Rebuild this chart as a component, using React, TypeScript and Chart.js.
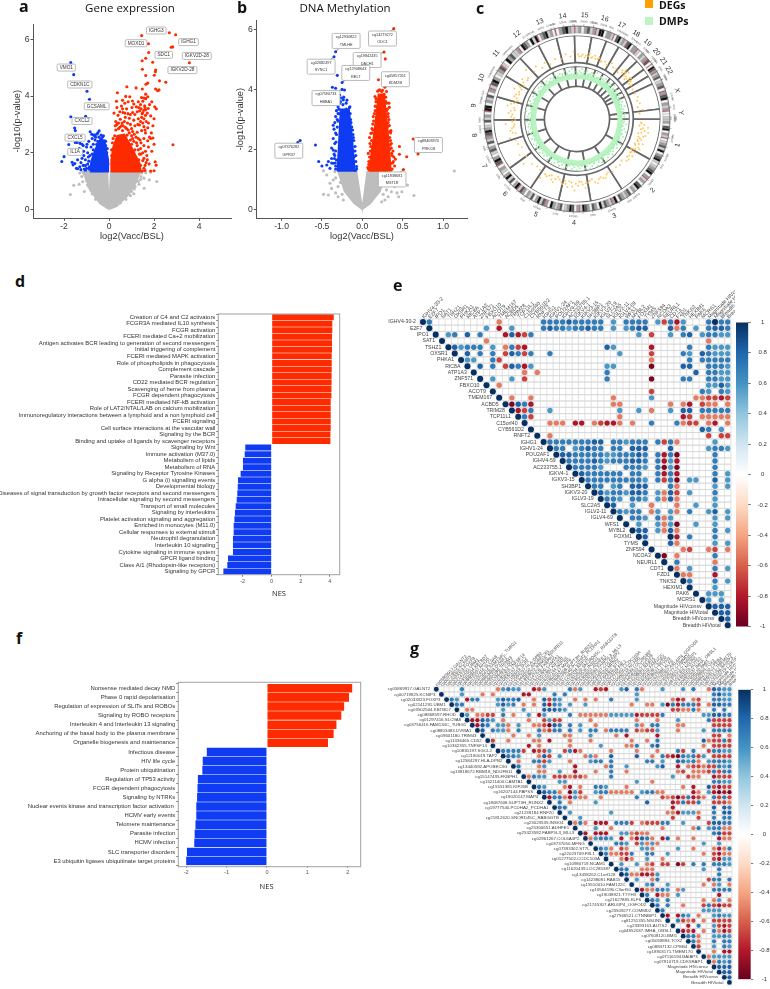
import React, { useEffect, useRef } from "react";
import { Chart, registerables } from "chart.js";
Chart.register(...registerables);

type P = [number, number];
const RED = "#ff2b00", BLUE = "#0f3cf2", GREY = "#bdbdbd";
const SANS = "'Liberation Sans', Arial, sans-serif";
const OPEN = "'Open Sans', sans-serif";

/* ---------- a: gene expression volcano ---------- */
const aXTicks = [-2, 0, 2, 4];
const aYTicks = [0, 2, 4, 6];
const aRed: P[] = [[1.45,6.14],[2.68,6.24],[2.96,6.17],[1.75,5.85],[2.76,5.73],[2.83,5.74],[1.76,5.54],[1.63,5.34],[1.47,5.25],[1.94,5.2],[3.57,5.18],[1.48,4.95],[2.07,4.92],[2.06,4.86],[1.63,4.73],[2.01,4.74],[1.72,4.46],[1.64,4.42],[2.24,4.54],[2.52,4.49],[.79,4.33],[1.2,4.29],[1.48,4.25],[2.07,4.25],[2.22,4.22],[2.16,4.19],[.37,4.12],[1.63,4.07],[.74,3.99],[.92,3.98],[1.44,3.95],[1.55,3.93],[1.63,3.91],[1.72,3.98],[.33,3.82],[.6,3.85],[.7,3.75],[.85,3.8],[1.04,3.83],[1.3,3.8],[1.5,3.82],[1.9,3.8],[.35,3.6],[.55,3.65],[.78,3.55],[1.02,3.6],[1.21,3.62],[1.4,3.7],[1.58,3.66],[1.74,3.56],[1.8,3.7],[2.03,3.62],[2.1,3.55],[.22,3.4],[.4,3.32],[.62,3.42],[.84,3.38],[1.05,3.42],[1.25,3.45],[1.36,3.48],[1.47,3.38],[1.55,3.5],[1.62,3.32],[1.7,3.4],[1.85,3.3],[.3,3.1],[.5,3.18],[.68,3.1],[.9,3.22],[1.1,3.15],[1.3,3.2],[1.45,3.25],[1.55,3.2],[1.65,3.1],[1.75,3.05],[2,3.2],[.28,2.95],[.55,2.95],[.72,2.9],[.95,3],[1.15,2.95],[1.35,2.98],[1.55,2.92],[1.72,2.88],[1.95,2.95],[.85,2.8],[1.05,2.75],[1.25,2.72],[1.45,2.78],[1.62,2.7],[1.88,2.7],[1.05,2.5],[1.2,2.55],[1.38,2.45],[1.55,2.5],[1.72,2.42],[1.85,2.5],[1.95,2.52],[2.84,2.28],[1,2.3],[1.25,2.25],[1.4,2.15],[1.55,2.25],[1.75,2.2],[2,2.3],[1.35,1.95],[1.5,2],[1.68,1.9],[1.9,2.05],[1.32,1.75],[1.5,1.72],[1.65,1.65],[1.78,1.6],[2.05,1.68],[2.09,1.56],[1.4,1.55],[1.55,1.45],[1.6,1.37],[1.85,1.35],[2,1.36],[.15,2.35],[.25,2.6],[.42,2.85],[.6,2.78],[.8,2.62],[.95,2.45],[1.15,2.1],[1.28,1.6],[.12,1.9],[.18,2.5],[.3,2.8],[.35,3],[.48,2.9],[.58,3.05],[.78,2.85],[.9,2.7],[1,2.6],[1.1,2.4],[1.22,2.35],[1.3,2.1],[1.42,1.95],[1.55,1.8],[1.6,1.55],[1.48,1.35],[.14,1.65],[.11,2.1],[.2,2.15],[.42,3.05],[.62,2.95],[.72,3.25],[.82,3.05],[1,2.85],[1.12,2.65],[1.3,2.5],[1.42,2.35],[1.62,2.05],[1.7,1.75],[1.28,3],[1.4,3.1],[.95,3.35],[.6,3.55],[.48,3.45],[1.15,3.35],[1.5,3.05],[1.6,2.8],[1.8,2.55],[.7,3.4],[1.1,3.72],[1.32,3.6],[1.62,3.52],[1.42,3.55],[1.5,3.42],[1.6,3.6]];
const aBlue: P[] = [[-1.7,5.19],[-1.57,4.76],[-.98,4.17],[-.87,3.89],[-1.7,3.27],[-1.04,3.29],[-1.53,2.87],[-1.5,2.78],[-.84,2.74],[-.44,2.77],[-.77,2.65],[-.65,2.62],[-.28,2.56],[-1.29,2.33],[-1.5,2.36],[-1.79,2.29],[-1.42,2.36],[-2,1.86],[-2.1,1.69],[-1.64,1.66],[-1.52,1.62],[-1.45,1.45],[-1.4,1.43],[-1.6,1.57],[-1.15,2.25],[-1.13,2.05],[-1,2.2],[-.95,2],[-.9,2.4],[-.75,2.5],[-.55,2.65],[-.85,1.9],[-1.2,1.8],[-1.05,1.75],[-1.15,1.55],[-.95,1.6],[-1,1.45],[-1.3,1.5],[-.7,2.3],[-.62,2.45],[-.45,2.55],[-.3,2.45],[-.2,2.42],[-.15,2.25],[-.1,2],[-.7,2.1],[-.8,2.2],[-.5,2.4],[-.35,2.62],[-.9,1.7],[-1.1,1.42],[-.05,1.6],[-.25,2.6],[-.15,2.4],[-.55,2.3],[-.75,1.95],[-.92,1.85],[-.6,2.55],[-.5,2.7],[-.35,2.5],[-.08,2.15],[-1.05,1.55],[-.88,1.5],[-1.25,1.65],[-1.12,1.9],[-1.32,2.15],[-.68,2.62],[-.98,2.3],[-1.2,2.3],[-1.4,1.75],[-1.25,1.4],[-1.05,1.38],[-.9,1.42]];
const aGrey: P[] = [[1.63,1.29],[1.79,1.04],[2.12,.98],[1.42,1.16],[1.56,.74],[.79,.68],[-1.33,.88],[-1.57,.85],[-1.72,.52],[-1.1,.63],[-1.17,.97],[-.92,1.19],[1.23,1.16],[1.85,1.31],[1.3,.98],[1.16,.8],[1,.63],[-.7,.68],[-.96,.86],[-1.21,1.16],[-.55,.45],[1.45,1.28],[1.55,1.1],[-1.3,1.28],[1.1,.55],[-.9,.8],[-.75,.55],[-.6,.35],[-1,1.02],[.5,.22],[.75,.35],[.95,.48],[1.12,.72],[1.33,.88],[1.4,1.05],[-1.12,1.3]];
const aGreyShape: P[] = [[0,0],[-.4,.2],[-.85,.68],[-1.07,1.15],[-1.2,1.33],[-.07,1.33],[0,.03],[.07,1.33],[1.38,1.33],[1.23,.98],[.86,.5],[.34,.1],[0,0]];
const aRedShape: P[] = [[.09,1.33],[1.42,1.33],[1.36,1.63],[1.1,2.05],[.9,2.35],[.68,2.65],[.36,2.6],[.18,2.2],[.09,1.75],[.09,1.33]];
const aBlueShape: P[] = [[-.84,1.33],[-.03,1.33],[-.03,1.75],[-.18,2.35],[-.4,2.47],[-.6,2.15],[-.8,1.7],[-.84,1.33]];
const aTags: { x: number; y: number; t: string[] }[] = [
  { x: 2.1, y: 6.32, t: ["IGHG3"] }, { x: 1.2, y: 5.87, t: ["MOXD1"] }, { x: 3.53, y: 5.91, t: ["IGHG1"] },
  { x: 2.43, y: 5.46, t: ["SDC1"] }, { x: 3.9, y: 5.42, t: ["IGKV2D-28"] }, { x: 3.26, y: 4.92, t: ["IGKV2D-28"] },
  { x: -1.9, y: 5.01, t: ["VMO1"] }, { x: -1.3, y: 4.41, t: ["CDKN1C"] }, { x: -.55, y: 3.64, t: ["GCSAML"] },
  { x: -1.2, y: 3.12, t: ["CXCL2"] }, { x: -1.51, y: 2.53, t: ["CXCL5"] }, { x: -1.51, y: 2.03, t: ["IL1A"] },
];

/* ---------- b: DNA methylation volcano ---------- */
const bXTicks = [-1, -.5, 0, .5, 1];
const bYTicks = [0, 2, 4, 6];
const bRed: P[] = [[.39,6.04],[.27,5.26],[.285,5.03],[.2,4.33],[.63,2.35],[.69,1.85],[.46,2.1],[.46,1.84],[.55,1.76],[.51,1.33],[.36,1.34],[.355,2.63],[.32,2.9],[.3,2.65],[.335,3.41],[.33,3.55],[.24,3.94],[.2,3.97],[.28,4.08],[.3,3.94],[.157,3.77],[.18,3.43],[.136,3.1],[.107,2.54],[.095,2.2],[.074,1.87],[.364,1.87],[.33,1.76],[.355,1.54],[.385,1.6],[.22,3.8],[.26,3.7],[.29,3.6],[.17,3.6],[.3,3.3],[.16,3.3],[.32,3.1],[.13,2.85],[.34,2.4],[.36,2.2],[.38,1.95],[.4,1.45],[.09,2.4],[.08,1.6],[.07,1.4],[.12,2.7],[.31,2.75],[.34,2],[.075,1.35],[.08,1.5],[.09,1.75],[.1,1.95],[.105,2.1],[.115,2.3],[.12,2.55],[.13,2.65],[.14,2.95],[.15,3.2],[.16,3.45],[.17,3.7],[.19,3.95],[.215,4],[.25,3.98],[.27,3.85],[.29,3.75],[.3,3.55],[.31,3.35],[.32,3.2],[.33,3],[.335,2.8],[.34,2.6],[.35,2.3],[.36,2.05],[.37,1.8],[.375,1.55],[.37,1.35],[.3,1.32],[.25,3.2],[.2,3.2],[.35,2.55],[.345,2.15],[.39,1.75],[.41,1.68]];
const bBlue: P[] = [[-.33,5.27],[-.35,5.1],[-.31,4.48],[-.25,4.24],[-.37,4.08],[-.33,4.05],[-.25,4.01],[-.22,3.99],[-.28,3.82],[-.235,3.66],[-.3,3.43],[-.153,3.43],[-.36,2.81],[-.35,2.68],[-.77,2.3],[-.8,2.23],[-.58,2.15],[-.54,1.6],[-.5,1.45],[-.44,1.48],[-.36,2.37],[-.34,2.2],[-.36,1.98],[-.32,1.65],[-.36,1.54],[-.4,1.37],[-.09,2.1],[-.1,1.76],[-.07,1.43],[-.11,2.4],[-.27,3.6],[-.2,3.55],[-.17,3.3],[-.29,3.2],[-.31,3],[-.14,2.9],[-.33,2.55],[-.12,2.65],[-.34,1.8],[-.33,1.45],[-.08,1.8],[-.38,1.55],[-.33,1.35],[-.335,1.55],[-.345,1.7],[-.33,1.95],[-.325,2.25],[-.32,2.5],[-.31,2.75],[-.3,2.95],[-.3,3.2],[-.29,3.35],[-.28,3.55],[-.26,3.72],[-.23,3.75],[-.19,3.65],[-.16,3.4],[-.15,3.2],[-.145,3],[-.13,2.75],[-.115,2.5],[-.105,2.3],[-.09,1.95],[-.08,1.6],[-.07,1.35],[-.085,1.3],[-.2,3.35],[-.24,3.5],[-.35,1.85],[-.38,2.05],[-.34,2.9],[-.33,3.1],[-.32,3.3],[-.38,1.7],[-.42,1.6]];
const bGrey: P[] = [[1.14,1.28],[.64,.46],[.56,.81],[.51,.98],[.49,.59],[.4,.76],[.36,.59],[.45,.42],[.32,.42],[-.48,1.29],[-.44,1.15],[-.4,.87],[-.34,1.26],[-.42,.48],[-.3,.42],[-.235,.31],[-.36,.98],[-.3,.76],[.28,.31],[.24,.25],[.34,1.15],[.38,1.05],[.33,.85],[.42,.95],[.3,.65],[-.38,.7],[-.33,.55],[-.48,.5],[.43,.55],[-.33,1.05],[-.27,.9],[.26,.5],[.3,.9],[.36,.95],[-.25,.5]];
const bGreyShape: P[] = [[0,0],[-.1,.2],[-.22,.6],[-.3,1.26],[-.07,1.26],[0,.03],[.06,1.26],[.3,1.26],[.22,.6],[.1,.2],[0,0]];
const bRedShape: P[] = [[.08,1.28],[.355,1.28],[.32,2.54],[.27,3.85],[.2,3.85],[.145,2.54],[.08,1.28]];
const bBlueShape: P[] = [[-.31,1.28],[-.09,1.28],[-.13,2.54],[-.165,3.35],[-.27,3.35],[-.285,2.54],[-.31,1.28]];
const bTags: { x: number; y: number; t: string[]; ax?: number; ay?: number }[] = [
  { x: -.2, y: 5.63, t: ["cg12930822", "TMLHE"], ax: -.33, ay: 5.27 }, { x: .25, y: 5.71, t: ["cg14279272", "ODC1"], ax: .39, ay: 6.04 },
  { x: .06, y: 4.99, t: ["cg19842435", "DACH1"], ax: .27, ay: 5.26 }, { x: -.51, y: 4.77, t: ["cg02682497", "SYNC1"], ax: -.35, ay: 5.1 },
  { x: -.08, y: 4.56, t: ["cg12908643", "RELT"], ax: -.25, ay: 4.24 }, { x: .41, y: 4.35, t: ["cg05857261", "KDM2B"], ax: .28, ay: 4.08 },
  { x: -.45, y: 3.72, t: ["cg07590733", "HBBA1"], ax: -.25, ay: 4.01 }, { x: -.91, y: 1.96, t: ["cg07376282", "GPR37"], ax: -.77, ay: 2.3 },
  { x: .82, y: 2.15, t: ["cg88408370", "PRKCB"], ax: .69, ay: 1.85 }, { x: .37, y: 1, t: ["cg11838681", "MST1R"], ax: .51, ay: 1.33 },
];

/* ---------- c: circos ---------- */
const chromNames = ["1","2","3","4","5","6","7","8","9","10","11","12","13","14","15","16","17","18","19","20","21","22","X","Y"];
const chromMb = [249,243,198,191,181,171,159,146,138,134,135,133,115,107,102,90,81,78,59,63,48,51,155,59];
const chromBands = ["lgwdkwglrwlgdlkwgdkl","wlgdkwgrlgwdklgwdg","lgdwkgrlgdlkwgd","wgdklrgwdkglwdg","lgkwgrdlkgwdlg","wgdlrkgwdlkgw","lgwrdkgwldg","wdlgrdkglwd","lgwrkkwgld","wgrldkgwl","gdrlwkgdl","lgrwkdgwkl","krwgdklgw","rwgdkgl","rlgwgdl","grlkkwg","glrwdkl","glrdkwg","grlwg","lgrdw","rwkdg","rlgdw","lgdwrgdkwgl","grwwl"];
const bandTone: Record<string, string> = { w: "#f4f4f4", l: "#cfcfcf", g: "#a0a0a0", d: "#5a5a5a", k: "#111111", r: "#e0434b" };
const degPoints: P[] = [[2,65],[5,67],[8,66],[11,69],[14,66],[17,65],[20,67],[23,65],[26,66],[29,64],[32,68],[35,65],[38,66],[41,64],[43,69],[45,71],[47,66],[48,72],[50,64],[52,69],[54,67],[56,65],[58,66],[62,65],[66,66],[70,67],[73,65],[76,67],[79,64],[82,69],[85,65],[93,66],[95,70],[97,74],[99,67],[101,75],[103,65],[105,71],[107,68],[109,66],[111,73],[113,65],[115,70],[117,68],[119,64],[121,66],[124,69],[127,65],[130,67],[133,63],[137,65],[141,64],[146,66],[150,64],[154,68],[158,65],[162,70],[166,64],[170,67],[173,72],[176,65],[179,69],[182,74],[185,66],[188,71],[191,65],[194,67],[198,63],[201,70],[204,64],[208,67],[212,72],[216,65],[220,64],[225,66],[230,72],[234,65],[238,70],[243,64],[247,66],[251,67],[254,72],[257,65],[260,70],[263,66],[266,74],[269,64],[272,68],[275,71],[278,65],[281,73],[284,67],[287,64],[290,69],[293,65],[296,72],[299,67],[302,64],[306,70],[310,66],[314,73],[318,66],[322,69],[326,64],[330,67],[334,63],[340,66],[345,64],[350,68],[354,65],[357,70],[1,67],[4,65],[7,64],[10,66],[13,65],[16,68],[19,66],[22,64],[44,67],[46,69],[49,67],[51,66],[53,70],[55,68],[94,67],[96,65],[98,69],[100,71],[102,68],[104,73],[106,66],[108,70],[110,67],[112,69],[114,66],[116,72],[118,66],[120,69],[122,65],[125,66],[128,68],[152,65],[156,67],[160,66],[164,68],[168,65],[172,67],[175,68],[178,65],[181,67],[184,70],[187,65],[190,68],[193,69],[196,65],[200,66],[203,68],[206,65],[210,66],[258,68],[262,68],[265,65],[268,67],[271,65],[274,67],[277,69],[280,66],[283,70],[286,66],[289,66],[292,68],[295,66],[298,65],[300,69],[304,67],[308,65]];
const dmpPoints: P[] = [[3,50],[6,52],[9,49],[12,51],[15,48],[18,50],[21,49],[24,52],[27,48],[30,50],[33,49],[36,51],[39,48],[42,50],[45,49],[48,52],[51,49],[54,50],[57,48],[60,50],[63,48],[66,49],[69,50],[72,48],[75,51],[78,49],[81,48],[84,50],[87,49],[93,49],[96,51],[99,48],[102,50],[105,52],[108,49],[111,51],[114,48],[117,50],[120,52],[123,49],[126,51],[129,48],[132,50],[135,52],[138,49],[141,51],[144,53],[147,49],[150,52],[153,50],[156,53],[159,49],[162,51],[165,53],[168,50],[171,52],[174,49],[177,51],[180,53],[183,50],[186,52],[189,49],[192,51],[195,53],[198,50],[201,52],[204,49],[207,51],[210,53],[213,50],[216,52],[219,49],[222,51],[225,50],[228,52],[231,49],[234,51],[237,50],[240,52],[243,49],[246,51],[249,48],[252,50],[255,52],[258,49],[261,51],[264,50],[267,52],[270,49],[273,51],[276,50],[279,53],[282,49],[285,51],[288,50],[291,52],[294,49],[297,51],[300,50],[303,52],[306,49],[309,51],[312,50],[315,52],[318,49],[321,50],[324,48],[327,50],[330,49],[333,51],[336,48],[339,50],[342,49],[345,51],[348,48],[351,50],[354,52],[357,49],[1,47],[5,48],[8,47],[11,46],[14,47],[17,48],[20,47],[23,46],[26,47],[29,48],[32,46],[35,48],[38,47],[41,48],[44,47],[47,46],[50,48],[53,47],[56,46],[59,47],[62,46],[65,47],[68,47],[71,46],[74,48],[77,47],[80,46],[83,47],[86,46],[92,47],[95,48],[98,47],[101,46],[104,48],[107,47],[110,48],[113,47],[116,48],[119,47],[122,48],[125,47],[128,48],[131,47],[134,48],[137,47],[140,48],[143,47],[146,48],[149,47],[152,48],[155,47],[158,48],[161,47],[164,48],[167,47],[170,48],[173,47],[176,48],[179,49],[182,47],[185,48],[188,47],[191,48],[194,47],[197,48],[200,47],[203,48],[206,47],[209,48],[212,47],[215,48],[218,47],[221,48],[224,47],[227,48],[230,47],[233,48],[236,47],[239,48],[242,47],[245,48],[248,47],[251,47],[254,48],[257,47],[260,48],[263,47],[266,48],[269,47],[272,48],[275,47],[278,48],[281,47],[284,48],[287,47],[290,48],[293,47],[296,48],[299,47],[302,48],[305,47],[308,48],[311,47],[314,48],[317,47],[320,46],[323,47],[326,46],[329,47],[332,46],[335,47],[338,46],[341,47],[344,46],[347,47],[350,46],[353,47],[356,46]];
const dmpBandDeg = [0,15,30,45,60,75,90,105,120,135,150,165,180,195,210,225,240,255,270,285,300,315,330,345,360];
const dmpBandR = [44,44,44,44.5,44,44,44.5,44.5,45,45,45,45.5,45.5,45,45,45,45,45,45,45,45,45,44.5,44,44];

/* ---------- d: pathway NES (gene expression) ---------- */
const dNames = ["Creation of C4 and C2 activators","FCGR3A mediated IL10 synthesis","FCGR activation","FCERI mediated Ca+2 mobilization","Antigen activates BCR leading to generation of second messengers","Initial triggering of complement","FCERI mediated MAPK activation","Role of phospholipids in phagocytosis","Complement cascade","Parasite infection","CD22 mediated BCR regulation","Scavenging of heme from plasma","FCGR dependent phagocytosis","FCERI mediated NF-kB activation","Role of LAT2/NTAL/LAB on calcium mobilization","Immunoregulatory interactions between a lymphoid and a non lymphoid cell","FCERI signaling","Cell surface interactions at the vascular wall","Signaling by the BCR","Binding and uptake of ligands by scavenger receptors","Signaling by Wnt","Immune activation (M37.0)","Metabolism of lipids","Metabolism of RNA","Signaling by Receptor Tyrosine Kinases","G alpha (i) signalling events","Developmental biology","Diseases of signal transduction by growth factor receptors and second messengers","Intracellular signaling by second messengers","Transport of small molecules","Signaling by interleukins","Platelet activation signaling and aggregation","Enriched in monocytes (M11.0)","Cellular responses to external stimuli","Neutrophil degranulation","Interleukin 10 signaling","Cytokine signaling in immune system","GPCR ligand binding","Class A/1 (Rhodopsin-like receptors)","Signaling by GPCR"];
const dNes = [4.28,4.18,4.18,4.16,4.16,4.16,4.14,4.14,4.14,4.13,4.13,4.12,4.12,4.07,4.07,4.07,4.07,4.07,4.05,4.05,-1.82,-1.86,-1.98,-1.98,-2.14,-2.32,-2.34,-2.37,-2.41,-2.48,-2.53,-2.57,-2.62,-2.62,-2.67,-2.67,-2.67,-3.01,-3.06,-3.33];
const dTicks = [-2, 0, 2, 4];

/* ---------- f: pathway NES (methylation) ---------- */
const fNames = ["Nonsense mediated decay NMD","Phase 0 rapid depolarisation","Regulation of expression of SLITs and ROBOs","Signaling by ROBO receptors","Interleukin 4 and Interleukin 13 signaling","Anchoring of the basal body to the plasma membrane","Organelle biogenesis and maintenance","Infectious disease","HIV life cycle","Protein ubiquitination","Regulation of TP53 activity","FCGR dependent phagocytosis","Signaling by NTRKs","Nuclear events kinase and transcription factor activation ","HCMV early events","Telomere maintenance","Parasite infection","HCMV infection","SLC transporter disorders","E3 ubiquitin ligases ubiquitinate target proteins"];
const fNes = [2.11,2.03,1.91,1.84,1.72,1.65,1.51,-1.49,-1.59,-1.6,-1.71,-1.72,-1.73,-1.75,-1.75,-1.77,-1.79,-1.8,-1.98,-2];
const fTicks = [-2, -1, 0, 1, 2];

/* ---------- e / g: correlation matrices ---------- */
const corrLevels: Record<string, number> = { D: 1, B: .82, M: .7, L: .58, r: -.52, R: -.68, K: -.82, X: -.95 };
const eNames = ["IGHV4-30-2","E2F7","IPO1","SAT1","TSHZ1","OXSR1","PHKA1","RIC8A","ATP1A3","ZNF571","FBXO10","ACOT9","TMEM167","ACBD5","TRIM28","TCP11L1","C15orf40","CYB561D2","RNFT2","IGHG1","IGHV1-24","POU2AF1","IGHV4-59","AC233755.1","IGKV4-1","IGKV3-15","SH3BP1","IGKV3-20","IGLV3-19","SLC2A5","IGLV2-11","IGLV4-69","WFS1","MYBL2","FOXM1","TYMS","ZNF594","NCOA3","NEURL1","CDT1","FZD1","TNKS2","HEXIM1","PAK6","MCRS1","Magnitude HIVconsv","Magnitude HIVtotal","Breadth HIVconsv","Breadth HIVtotal"];
const eRows = [
"1M 12r 19M 20M 21M 22M 23B 24M 25M 26M 27M 28M 30L 32M 33M 34M 35M 37L 38R 39M 40K 41L 45M 46D 47M 48M",
"10L 12K 14L 19M 20B 21M 22M 23L 24M 25M 26B 27M 28M 30L 32L 33M 34B 35B 39B 40r 41M 43L 45M 46B 47B 48M",
"4L 5M 7B 9M 13K 14B 15K 16R 17M 34L 36R 39L 41M 42B 44L 45M 46M 47L 48L",
"10r 45r",
"5B 6L 7M 8M 9M 11L 13r 14M 15R 16K 29B 30L 36K 42M 45M 46L 47L 48L",
"7B 9M 11M 13R 14B 15M 16R 17M 20M 31L 36R 41M 42L 44B 45M 46L 47L 48L",
"7L 8L 11M 12R 36r 42M 44M 45M 46M 47M 48M",
"9B 11M 13R 14B 15M 16K 17L 29L 30L 36X 41B 42B 45M 46M 47M 48L",
"16r 18r 29M 43B 45M 46M 47L 48L",
"11L 14L 16R 29M 36X 41M 42M 45M 46M 47L 48L",
"12r 45L 46L 47B 48L",
"36R 44M 45L 47M 48L",
"14r 17r 30r 36L 43r 44r 45R 46R 47K 48R",
"14X 15B 16M 17K 30r 31r 39r 41r 42K 44R 45r 46r 48r",
"15K 16R 17M 20L 31L 34L 36r 39L 41B 42B 44M 45M 46M 47M 48M",
"16M 17R 31r 41K 42R 44r 45r 46r 47r 48r",
"20r 21r 22r 24K 25K 27r 28R 29K 30K 31r 33r 36M 40M 41r 42R 43R 45r 46K 48r",
"44B 45M 47L",
"20r 45R 47R 48R",
"20M 21M 22M 23M 24M 25M 26M 27B 28B 30M 31M 32L 33M 34M 35M 37M 38R 39M 40r 46L",
"21M 22M 24L 25M 26B 27M 28M 30M 31M 33B 34B 35B 39B 45L 46M 47M 48L",
"22B 23B 24M 25M 26M 27M 28M 29L 30L 31M 32M 33M 34B 35M 37M 38K 39M 40X 46M",
"23M 24M 25M 26M 27B 28M 29L 30M 31M 32M 33B 34B 35M 37M 38K 39L 40K 46M",
"24M 25M 26M 27M 28L 32M 33M 34M 35L 37M 38X 39L 40X 46M",
"25B 26M 27M 28M 29M 30M 31M 33M 34M 37M 38K 39M 40K 46M 48L",
"26M 27M 28M 29M 30M 31M 32M 33M 34M 35L 37M 38R 39M 40X 42L 43L 46B 48L",
"27M 28M 30L 31M 33B 34B 35B 39M 40r 46L 48L",
"28B 29L 30M 31M 32L 33B 34B 35M 37L 38r 39B 40R 42L 46M",
"29M 30M 31L 33M 34M 35L 37L 38r 39B 40r 46L",
"30B 33L 36r 40r 43L 46L",
"31M 32L 33M 34M 36r 37L 39L 40r 42M 45L 46B 48L",
"33M 34M 35L 37M 38r 39L 46L 48L",
"34L 37L 38r 39L 40X 43L 46L",
"34B 35B 37L 38r 39B 40r 46M 48L",
"35B 39D 40K 42M 46M",
"39B 40r 46L 48L",
"41r 42R 45r 46R 48r",
"38X 40r 46M",
"40M 46r",
"40r 42L 46M 48L",
"41r 42r 46K",
"42M 46M 48L",
"46L",
"45L 46L 47L",
"45L 47L",
"46B 47B 48B",
"47B 48B",
"48B",
"",
];
const gNames = ["cg05869917.GALNT2","cg00719825.KCNIP3","cg02033323.FOXP3","cg02141291.UBM1","cg03502504.KBTBD7","cg08868597.RHOD","cg01297416.SLC9A8","cg03756416.FAM134C_TUBG1","cg08803483.DVWA1","cg09601180.TRIM43","cg11336465.CD52","cg10362355.TNFSF14","cg10830197.SGCL2","cg12180019.TAP2","cg12584297.HLA-DPB2","cg13440592.APOBEC3G","cg13818672.RBM18_NDUFB11","cg15147435.FKBPH1","cg15211400.CAMTA1","cg15551381.KIF26B","cg16207144.PAPSS","cg18020147.MAP4","cg18087608.SUPT3H_RUNX2","cg19777540.PCDHA2_PCDHA1","cg21239184.RNF20","cg21812620.SNORD45C_RABGGTB","cg23023535.INSIG1","cg25300651.ADHFE1","cg25323582.FABP5L3_MLL3","cg02961267.COL6A4P2","cg03737050.MFNG","cg07393302.ST7L","cg22023709.F8L1","cg01277502.CCDC103A","cg10980719.NCAM1","cg11620439.LOC285387","cg13458262.C1orf128","cg14238081.RAB15","cg15510010.FAM122C","cg16564196.C3orf50","cg19038921.TTYH3","cg21627885.KLF6","cg21745307.ARL6IP4_OGFOD2","cg23509277.COMMD2","cg27566521.CTNNBIP1","cg81251355.NSUN5","cg23393163.AUTS2","cg04852037.IMHA_OBSL1","cg07608120.BMI1","cg05058894.TOX2","cg08847132.CPEB4","cg18903171.TMEM170","cg07116194.BAIAP3","cg07910719.CDK5RAP1","Magnitude HIVconsv","Magnitude HIVtotal","Breadth HIVconsv","Breadth HIVtotal"];
const gRows = [
"5M 12r 13L 14M 15L 16L 19K 20R 21L 26M 27r 28L 31K 32R 33K 36L 37B 39M 40r 44L 48L 50M 53r 54B 55M 56L 57L",
"5L 9r 11r 17K 18K 23M 25M 39L 54M 55B 56L 57L",
"3M 4L 6K 7M 8M 12L 13B 14M 15M 16B 19r 21B 22R 23M 24L 27r 29r 31r 34M 39L 46r 47K 48R 50r 51R 54M 55M 56L 57L",
"4M 5M 12L 13B 14L 15M 17r 19r 21B 22K 23M 24L 26L 29L 38r 41r 42r 44L 45X 46M 47K 48M 49M 50M 51R 53r 54B 55B 56M 57M",
"6r 7r 13L 17L 21B 22B 23B 24M 25L 46R 47R 48r 49r 50M 51r 54M 56M",
"6L 8r 9r 10R 11R 13M 15r 18L 20K 21L 26M 28r 29r 30r 31r 32r 33r 34L 35L 36L 37L 38L 39K 40R 41R 42R 43R 44M 52L 53L 54B 55B 56M 57M",
"7K 8K 9B 10M 11L 13r 18r 21R 22L 23R 24R 30r 39r 43r 47L 53M 54R 55R 56R 57R",
"8K 9B 10M 12L 13L 14r 16L 19r 20r 21R 22X 23B 24M 26M 28L 31r 39L 40r 42M 43M 47r 48r 54R 55R 56R 57R",
"9B 11M 12L 13L 14r 16M 20M 21r 22R 23M 24M 26M 28L 30M 31M 33r 34M 35M 36M 37M 39R 40r 41R 42R 43L 47r 52L 54M 55M 56M 57M",
"15r 18r 20L 25r 26r 30L 35r 37K 43K 54R 55R 57r",
"11R 14r 19r 20r 22K 26r 30r 38r 41r 43M 52B 53r 54R 55R 56M 57R",
"18K 20r 26r 32L 37r 38r 39M 42M 43B 52r 54R 55R 56R 57R",
"13M 14M 15M 16M 17R 19K 20R 21R 22L 25R 26M 27K 28r 34r 39r 43r 47M 48R 50M 53R 54M 55M 56L 57L",
"14M 15M 16L 20r 21B 22R 24L 29r 30L 31r 34B 39B 42r 44M 45R 46K 47X 48M 49L 50M 51R 52L 54R 55R 56R 57R",
"16r 19M 20M 21R 22L 26r 30L 31M 32M 34M 41M 42M 44L 47B 48M 49L 50M 51r 53L 54M 55M 56M 57L",
"16M 20r 21L 27K 33r 34M 37L 43L 44B 47K 49r 50R 51R 52r 53R 54R 55M 56L 57M",
"20r 21r 24L 27K 31r 34M 37r 47r 48R 50r 51r 52r 53R 54M 55R 56M 57M",
"18r 19M 20L 21L 23R 24R 25R 26r 27R 28R 29r 34M 46L 49R 50r 51r 54K 55R 56R 57R",
"24L 25L 39L 42r 54M 55M 56L 57L",
"20M 21L 25r 26K 28r 31M 32M 33L 37r 48r 50K 53B 54R 55K 56R 57R",
"21B 22M 23M 24r 26X 27L 28R 31L 32M 33M 34r 35r 36r 37r 38r 40L 41M 42M 43r 44r 50K 51r 53L 54K 55X 56K 57X",
"22K 23M 24M 25r 26K 27L 28r 29r 32r 39M 44R 45r 46R 47X 48R 49M 50K 51R 52r 54M 55R 56M 57R",
"24M 26r 31L 41B 46K 47R 48M 49R 50R 51M 54R 55R 56R 57r",
"24M 25M 46K 54B 56B 57M",
"26L 34L 45r 46r 47K 48L 49L 50L 51r 54M 56B 57B",
"28L 46R 51R 54M 56M 57M",
"27r 28M 29r 31K 32K 33K 35M 36M 37M 38R 40r 41R 42R 43R 44M 45M 48L 53R 54B 55B 56M 57M",
"31L 34r 44r 50r 51M 53L 54M 55M 56r 57r",
"29K 31K 32K 33K 36L 37L 38r 39R 40r 41r 54M 55B 56R 57R",
"30r 31L 32M 33M 34L 36K 38r 39K 40B 41M 42r 44K 45B 47r 50r 55K 56r 57r",
"35M 36M 37L 39R 40L 41r 42L 43r 52L 55L",
"32M 33L 34r 36R 37r 40L 41L 42r 47L 50r 54r 55K 56r 57M",
"33M 34r 35r 36R 37R 38M 41M 42M 45L 52r 54R 55K 56r 57r",
"36r 37K 38r 41L 44r 54R 55K 56L 57L",
"36L 39L 41r 42R 44R 45R 47X 48R 50M 52M 54M 55M 56M 57L",
"36M 37M 40r 41r 42r 52L 55M",
"37B 38r 39r 40K 41K 42R 43L 55M",
"39L 42r 43M 53R 54M 55M 57M",
"41L 42M 45L 52r 54r 55L 57r",
"40K 41r 42r 43M 44M 45L 47r 48L 54M 55M 56M 57M",
"41M 43K 44r 45r 47L 55K",
"42M 43L 45M 52r 54r 55L 57r",
"43M 45M 48r 52R 53M 54R 55K 56R 57R",
"44M 52L 53L 54L 55L",
"45K 47K 48M 49L 51r 54L 55M 56L 57L",
"47M 48R 49r 50R 52r 54R 55R 56R 57R",
"49K 51M 54L 55R 56K 57R",
"48K 49R 50K 52r 54M 55r 56K 57R",
"49M 50M 51r 54L 55L 56M 57L",
"50M 51r 54M 56M 57M",
"51R 54L 56M 57L",
"54r 56K 57K",
"53r 54L 55L 56L 57L",
"54r 55M 56L 57M",
"55B 56B 57B",
"56B 57B",
"57B",
"",
];
const barTicks = [1, .8, .6, .4, .2, 0, -.2, -.4, -.6, -.8, -1];
const rdbu = ["#67001f","#b2182b","#d6604d","#f4a582","#fddbc7","#ffffff","#d1e5f0","#92c5de","#4393c3","#2166ac","#053061"];

/* ---------- helpers ---------- */
function hexMix(a: string, b: string, t: number) {
  const p = (h: string, i: number) => parseInt(h.substr(1 + i * 2, 2), 16);
  const c = [0, 1, 2].map((i) => Math.round(p(a, i) * (1 - t) + p(b, i) * t));
  return `rgb(${c[0]},${c[1]},${c[2]})`;
}
function corrColor(v: number) {
  const f = ((v + 1) / 2) * 10, i = Math.min(9, Math.floor(f));
  return hexMix(rdbu[i], rdbu[i + 1], f - i);
}
const xy = (a: P[]) => a.map(([x, y]) => ({ x, y }));
const setTicks = (vals: number[]) => (s: any) => { s.ticks = vals.map((value) => ({ value })); };

function framePlugin(t = 0, b = 0, color = "#a0a0a0") {
  return {
    id: "frame",
    afterDatasetsDraw(c: any) {
      const a = c.chartArea, g = c.ctx;
      g.save(); g.strokeStyle = color; g.lineWidth = 1;
      g.strokeRect(a.left, a.top - t, a.right - a.left, a.bottom - a.top + t + b);
      g.restore();
    },
  };
}
function tagPlugin(tags: any[], font: number, boxH: number, padX: number) {
  return {
    id: "tags",
    afterDatasetsDraw(c: any) {
      const g = c.ctx, X = c.scales.x, Y = c.scales.y;
      g.save();
      g.textAlign = "center"; g.textBaseline = "middle";
      g.font = `${font}px ${SANS}`;
      for (const t of tags) {
        const cx = X.getPixelForValue(t.x), cy = Y.getPixelForValue(t.y);
        const w = Math.max(...t.t.map((s: string) => g.measureText(s).width)) + padX * 2;
        if (t.ax !== undefined) {
          g.strokeStyle = "#333"; g.lineWidth = .6; g.beginPath();
          g.moveTo(cx, cy); g.lineTo(X.getPixelForValue(t.ax), Y.getPixelForValue(t.ay)); g.stroke();
        }
        g.fillStyle = "#fff"; g.strokeStyle = "#a8a8a8"; g.lineWidth = .8;
        g.beginPath(); g.roundRect(cx - w / 2, cy - boxH / 2, w, boxH, 1.2); g.fill(); g.stroke();
        g.fillStyle = "#333";
        t.t.forEach((s: string, i: number) => {
          g.fillText(s, cx, cy + (i - (t.t.length - 1) / 2) * (boxH * .5));
        });
      }
      g.restore();
    },
  };
}
function volcanoConfig(o: any) {
  const pts = (d: P[], col: string, order: number) => ({ data: xy(d), backgroundColor: col, borderWidth: 0, pointRadius: 1.55, showLine: false, order });
  const poly = (d: P[], col: string, order: number) => ({ data: xy(d), backgroundColor: col, borderColor: col, borderWidth: 1.5, pointRadius: 0, showLine: true, tension: 0, fill: "shape", order });
  const fmt = o.fmt;
  return {
    type: "scatter",
    data: { datasets: [poly(o.greyShape, GREY, 6), pts(o.grey, GREY, 5), poly(o.blueShape, BLUE, 4), pts(o.blue, BLUE, 3), poly(o.redShape, RED, 2), pts(o.red, RED, 1)] },
    options: {
      responsive: false, animation: false,
      layout: { padding: { top: o.top, right: o.right, left: 0, bottom: 0 } },
      plugins: { legend: { display: false }, tooltip: { enabled: false } },
      scales: {
        x: {
          type: "linear", min: o.xMin, max: o.xMax, afterBuildTicks: setTicks(o.xTicks),
          afterFit: (s: any) => { s.height = o.axisH; },
          ticks: { font: { family: SANS, size: 8.6 }, color: "#333", padding: 1, maxRotation: 0, callback: fmt },
          grid: { drawOnChartArea: false, tickLength: 2.5, color: "#555" }, border: { color: "#555", width: 1 },
          title: { display: true, text: "log2(Vacc/BSL)", font: { family: SANS, size: 9.3 }, color: "#333", padding: { top: 0, bottom: o.xTitlePad } },
        },
        y: {
          type: "linear", min: o.yMin, max: o.yMax, afterBuildTicks: setTicks(o.yTicks),
          afterFit: (s: any) => { s.width = o.axisW; },
          ticks: { font: { family: SANS, size: 8.6 }, color: "#333", padding: 1 },
          grid: { drawOnChartArea: false, tickLength: 2.5, color: "#555" }, border: { color: "#555", width: 1 },
          title: { display: true, text: "-log10(p-value)", font: { family: SANS, size: 9.3 }, color: "#333", padding: { top: o.yTitlePad, bottom: 0 } },
        },
      },
    },
    plugins: [tagPlugin(o.tags, o.tagFont, o.tagH, o.tagPad)],
  };
}
function nesConfig(o: any) {
  return {
    type: "bar",
    data: { labels: o.names, datasets: [{ data: o.values, backgroundColor: o.values.map((v: number) => (v > 0 ? RED : BLUE)), borderWidth: 0, barPercentage: o.bar, categoryPercentage: 1 }] },
    options: {
      indexAxis: "y", responsive: false, animation: false,
      layout: { padding: { top: o.top, right: o.right, left: 0, bottom: 0 } },
      plugins: { legend: { display: false }, tooltip: { enabled: false } },
      scales: {
        x: {
          type: "linear", min: o.xMin, max: o.xMax, afterBuildTicks: setTicks(o.ticks),
          afterFit: (s: any) => { s.height = o.axisH; },
          ticks: { font: { family: SANS, size: 5.6 }, color: "#555", padding: o.xTickPad, maxRotation: 0 },
          grid: { drawOnChartArea: false, tickLength: 2, color: "#777" }, border: { display: false },
          title: { display: true, text: o.title, font: { family: OPEN, size: 7.5 }, color: "#222", padding: { top: 0, bottom: o.titlePad } },
        },
        y: {
          type: "category", afterFit: (s: any) => { s.width = o.axisW; },
          ticks: { autoSkip: false, font: { family: SANS, size: o.labelSize }, color: "#333", padding: 1 },
          grid: { drawOnChartArea: false, tickLength: 2, color: "#777" }, border: { display: false },
        },
      },
    },
    plugins: [framePlugin(o.frameTop, o.frameBottom)],
  };
}
function matrixConfig(o: any) {
  const n = o.names.length;
  const pts: any[] = [];
  o.rows.forEach((row: string, r: number) => {
    pts.push({ x: r, y: r, v: 1 });
    row.split(" ").filter(Boolean).forEach((cell) => {
      pts.push({ x: parseInt(cell, 10), y: r, v: corrLevels[cell.slice(-1)] });
    });
  });
  return {
    type: "scatter",
    data: { datasets: [{ data: pts, pointBackgroundColor: pts.map((p) => corrColor(p.v)), pointBorderWidth: 0, pointRadius: pts.map((p) => (p.v === 1 ? o.r * 1.12 : o.r)) }] },
    options: {
      responsive: false, animation: false,
      layout: { padding: o.pad },
      plugins: { legend: { display: false }, tooltip: { enabled: false } },
      scales: {
        x: { type: "linear", display: false, min: -.5, max: n - .5 },
        y: { type: "linear", display: false, min: -.5, max: n - .5, reverse: true },
      },
    },
    plugins: [{
      id: "corrGrid",
      beforeDatasetsDraw(c: any) {
        const g = c.ctx, X = c.scales.x, Y = c.scales.y;
        g.save(); g.strokeStyle = "#d6d6d6"; g.lineWidth = .7;
        for (let r = 0; r < n; r++) {
          const yT = Y.getPixelForValue(r - .5), yB = Y.getPixelForValue(r + .5);
          g.beginPath(); g.moveTo(X.getPixelForValue(r - .5), yT); g.lineTo(X.getPixelForValue(n - .5), yT);
          g.moveTo(X.getPixelForValue(r - .5), yB); g.lineTo(X.getPixelForValue(n - .5), yB); g.stroke();
          const xL = X.getPixelForValue(r + .5);
          g.beginPath(); g.moveTo(xL, Y.getPixelForValue(-.5)); g.lineTo(xL, Y.getPixelForValue(r + .5)); g.stroke();
        }
        const xF = X.getPixelForValue(-.5);
        g.beginPath(); g.moveTo(xF, Y.getPixelForValue(-.5)); g.lineTo(xF, Y.getPixelForValue(.5)); g.stroke();
        g.restore();
      },
      afterDatasetsDraw(c: any) {
        const g = c.ctx, X = c.scales.x, Y = c.scales.y;
        g.save(); g.font = `${o.font}px ${SANS}`; g.fillStyle = "#444";
        o.names.forEach((name: string, i: number) => {
          g.textAlign = "right"; g.textBaseline = "middle";
          g.fillText(name, X.getPixelForValue(i) - o.rowGap, Y.getPixelForValue(i));
          g.save(); g.translate(X.getPixelForValue(i), Y.getPixelForValue(-.5) - 1); g.rotate(-Math.PI / 4);
          g.textAlign = "left"; g.fillText(name, 0, 0); g.restore();
        });
        g.restore();
      },
    }],
  };
}
function colorbarConfig(o: any) {
  return {
    type: "bar",
    data: {
      labels: [""],
      datasets: [{
        data: [[-1, 1]], borderWidth: 0, barPercentage: 1, categoryPercentage: 1,
        backgroundColor: (ctx: any) => {
          const a = ctx.chart.chartArea;
          if (!a) return "#888";
          const gr = ctx.chart.ctx.createLinearGradient(0, a.bottom, 0, a.top);
          rdbu.forEach((col, i) => gr.addColorStop(i / 10, col));
          return gr;
        },
      }],
    },
    options: {
      responsive: false, animation: false,
      layout: { padding: o.pad },
      plugins: { legend: { display: false }, tooltip: { enabled: false } },
      scales: {
        x: { display: false },
        y: {
          position: "right", min: -1, max: 1, afterBuildTicks: setTicks(barTicks),
          afterFit: (s: any) => { s.width = o.axisW; },
          ticks: { font: { family: SANS, size: 6 }, color: "#333", padding: o.tickPad, crossAlign: "center", callback: (v: number) => String(Number(v.toFixed(1))) },
          grid: { drawOnChartArea: false, tickLength: 2.5, color: "#777" }, border: { display: false },
        },
      },
    },
  };
}
const chromStarts = chromMb.reduce<number[]>((acc, v, i) => { acc.push(i ? acc[i - 1] + chromMb[i - 1] : 0); return acc; }, []);
const genomeTotal = chromMb.reduce((a, b) => a + b, 0);
function circosRingsConfig() {
  const bandSizes: number[] = [], bandCols: string[] = [];
  chromBands.forEach((s, i) => {
    const total = [...s].reduce((t, ch) => t + (ch === "r" ? .4 : 1), 0);
    [...s].forEach((ch) => { bandSizes.push((chromMb[i] * (ch === "r" ? .4 : 1)) / total); bandCols.push(bandTone[ch]); });
  });
  const track = (col: string, bw: number, weight: number, edge = "#666") => ({ data: chromMb, backgroundColor: col, borderColor: edge, borderWidth: bw, weight, borderAlign: "center" });
  return {
    type: "doughnut",
    data: {
      labels: chromNames,
      datasets: [
        { data: bandSizes, backgroundColor: bandCols, borderColor: "#777", borderWidth: .25, weight: 6 },
        track("#ffffff", 0, 2, "#ffffff"),
        track("#ffffff", 1.7, 23),
        track("#ffffff", 0, 3, "#ffffff"),
        track("#ffffff", 1.7, 17),
      ],
    },
    options: {
      responsive: false, animation: false, radius: 93, cutout: 42, rotation: 90,
      plugins: { legend: { display: false }, tooltip: { enabled: false } },
    },
    plugins: [{
      id: "circosText",
      afterDatasetsDraw(c: any) {
        const g = c.ctx, cx = (c.chartArea.left + c.chartArea.right) / 2, cy = (c.chartArea.top + c.chartArea.bottom) / 2;
        const toRad = (mb: number) => ((mb / genomeTotal) * 360 + 90) * Math.PI / 180;
        const place = (ang: number, r: number, s: string) => {
          const flip = Math.cos(ang) < 0;
          g.save(); g.translate(cx + r * Math.sin(ang), cy - r * Math.cos(ang)); g.rotate(flip ? ang - Math.PI : ang);
          g.fillText(s, 0, 0); g.restore();
        };
        g.save(); g.textAlign = "center"; g.textBaseline = "middle";
        g.strokeStyle = "#666"; g.lineWidth = .7;
        g.beginPath(); g.arc(cx, cy, 93, 0, Math.PI * 2); g.stroke();
        chromMb.forEach((mb, i) => {
          g.fillStyle = "#666"; g.font = `2.8px ${SANS}`;
          for (let m = 0; m < mb; m += 50) {
            const a = toRad(chromStarts[i] + m);
            g.strokeStyle = "#555"; g.lineWidth = .4; g.beginPath();
            g.moveTo(cx + 93 * Math.sin(a), cy - 93 * Math.cos(a)); g.lineTo(cx + 95 * Math.sin(a), cy - 95 * Math.cos(a)); g.stroke();
            if (m % 100 === 0 || mb < 120) place(a, 97.5, `${m}Mb`);
          }
          g.fillStyle = "#333"; g.font = `7px ${SANS}`;
          place(toRad(chromStarts[i] + mb / 2), 104, chromNames[i]);
        });
        g.restore();
      },
    }],
  };
}
function circosDotsConfig() {
  const polar = (a: P[]) => a.map(([deg, r]) => ({ x: r * Math.sin(deg * Math.PI / 180), y: r * Math.cos(deg * Math.PI / 180) }));
  return {
    type: "scatter",
    data: {
      datasets: [
        { data: polar(dmpPoints), backgroundColor: "#a6efb2", pointRadius: 1, borderWidth: 0 },
        { data: polar(degPoints), backgroundColor: "#ffc552", pointRadius: .95, borderWidth: 0 },
        { data: polar(dmpBandDeg.map((d, i) => [d, dmpBandR[i]] as P)), showLine: true, borderColor: "#b9f3c2", borderWidth: 5, pointRadius: 0, tension: .4 },
      ],
    },
    options: {
      responsive: false, animation: false,
      plugins: { legend: { display: false }, tooltip: { enabled: false } },
      scales: { x: { type: "linear", display: false, min: -120, max: 120 }, y: { type: "linear", display: false, min: -120, max: 120 } },
    },
  };
}

/* ---------- components ---------- */
function Panel({ left, top, width, height, config }: { left: number; top: number; width: number; height: number; config: () => any }) {
  const ref = useRef<HTMLCanvasElement>(null);
  useEffect(() => {
    const chart = new Chart(ref.current as HTMLCanvasElement, config());
    return () => chart.destroy();
  }, []);
  return <canvas ref={ref} width={width} height={height} style={{ position: "absolute", left, top, width, height }} />;
}
function Text({ x, y, size, bold, children, center }: any) {
  return (
    <div style={{ position: "absolute", left: x, top: y, fontFamily: OPEN, fontSize: size, fontWeight: bold ? 700 : 400, color: "#111", lineHeight: 1, whiteSpace: "nowrap", transform: center ? "translateX(-50%)" : undefined }}>
      {children}
    </div>
  );
}

export default function App() {
  return (
    <div style={{ position: "absolute", left: 0, top: 0, width: 770, height: 989, background: "#fff", overflow: "hidden" }}>
      <Panel left={0} top={0} width={235} height={246} config={() => volcanoConfig({
        red: aRed, blue: aBlue, grey: aGrey, redShape: aRedShape, blueShape: aBlueShape, greyShape: aGreyShape, tags: aTags,
        xMin: -3.38, xMax: 5.42, yMin: -.32, yMax: 6.55, xTicks: aXTicks, yTicks: aYTicks, top: 24, right: 4, axisH: 27.7, axisW: 33,
        xTitlePad: 4.4, yTitlePad: 12, tagFont: 4.7, tagH: 7, tagPad: 2.5,
      })} />
      <Panel left={235} top={0} width={237} height={246} config={() => volcanoConfig({
        red: bRed, blue: bBlue, grey: bGrey, redShape: bRedShape, blueShape: bBlueShape, greyShape: bGreyShape, tags: bTags,
        xMin: -1.313, xMax: 1.306, yMin: -.3, yMax: 6.33, xTicks: bXTicks, yTicks: bYTicks, top: 20, right: 4.3, axisH: 27.7, axisW: 21.3,
        xTitlePad: 4.4, yTitlePad: 0, tagFont: 3.8, tagH: 15, tagPad: 3.5, fmt: (v: number) => v.toFixed(1),
      })} />
      <Panel left={457} top={-1} width={240} height={240} config={circosRingsConfig} />
      <Panel left={457} top={-1} width={240} height={240} config={circosDotsConfig} />
      <Panel left={0} top={300} width={345} height={300} config={() => nesConfig({
        names: dNames, values: dNes, xMin: -3.68, xMax: 4.69, ticks: dTicks, top: 14, right: 5.3, axisH: 25.3, axisW: 218.3,
        xTickPad: 1, title: "NES", titlePad: 1.5, labelSize: 5.9, bar: .92, frameTop: 0, frameBottom: 0,
      })} />
      <Panel left={0} top={670} width={366} height={223} config={() => nesConfig({
        names: fNames, values: fNes, xMin: -2.195, xMax: 2.32, ticks: fTicks, top: 13.75, right: 5.3, axisH: 27.45, axisW: 178.3,
        xTickPad: 2, title: "NES   ", titlePad: 1.8, labelSize: 5.9, bar: .94, frameTop: 1.45, frameBottom: 1.15,
      })} />
      <Panel left={370} top={285} width={365} height={350} config={() => matrixConfig({
        names: eNames, rows: eRows, r: 2.7, font: 5.2, rowGap: 7, pad: { left: 49.8, top: 33.84, right: 4.1, bottom: 6.5 },
      })} />
      <Panel left={730} top={312} width={40} height={325} config={() => colorbarConfig({ pad: { left: 6, top: 7, right: 0, bottom: 8.7 }, axisW: 21.7, tickPad: 6.8 })} />
      <Panel left={370} top={630} width={366} height={359} config={() => matrixConfig({
        names: gNames, rows: gRows, r: 2.15, font: 4.4, rowGap: 6, pad: { left: 63.7, top: 56.7, right: 3.4, bottom: 3.1 },
      })} />
      <Panel left={732} top={680} width={38} height={309} config={() => colorbarConfig({ pad: { left: 6.3, top: 7.3, right: 0, bottom: 3.3 }, axisW: 19.3, tickPad: 6.1 })} />

      <Text x={130} y={2} size={11.5} center>Gene expression</Text>
      <Text x={345} y={2} size={11.5} center>DNA Methylation</Text>
      <Text x={19} y={-2} size={16} bold>a</Text>
      <Text x={237} y={-1} size={16} bold>b</Text>
      <Text x={476} y={0} size={16} bold>c</Text>
      <Text x={15} y={273} size={16} bold>d</Text>
      <Text x={393} y={277} size={16} bold>e</Text>
      <Text x={16} y={630} size={16} bold>f</Text>
      <Text x={410} y={640} size={16} bold>g</Text>
      <div style={{ position: "absolute", left: 645, top: 0, width: 8, height: 8, background: "#ffa000" }} />
      <div style={{ position: "absolute", left: 645, top: 17, width: 8, height: 8, background: "#bff5c4" }} />
      <Text x={659} y={0} size={10.5} bold>DEGs</Text>
      <Text x={659} y={16} size={10.5} bold>DMPs</Text>
    </div>
  );
}
